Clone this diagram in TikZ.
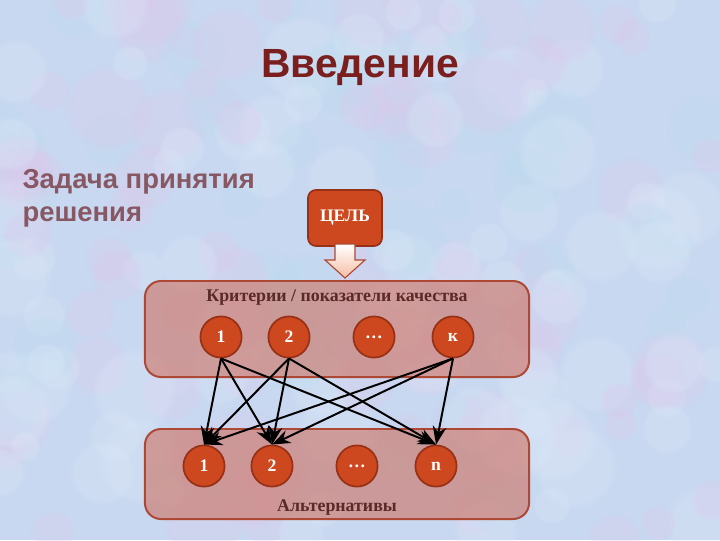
\documentclass[tikz,border=0pt]{standalone}
\usepackage{fontspec}
\setmainfont{Liberation Serif}
\setsansfont{Liberation Sans}
\usetikzlibrary{positioning}
\usetikzlibrary{arrows.meta,arrows,fadings}
\definecolor{bgblue}{RGB}{200,216,240}
\definecolor{bgpink}{RGB}{222,200,235}
\definecolor{bglight}{RGB}{220,232,248}
\definecolor{bgcyan}{RGB}{188,220,238}
\definecolor{titlered}{RGB}{122,30,30}
\definecolor{subgrey}{RGB}{135,88,100}
\definecolor{labbrown}{RGB}{90,42,40}
\definecolor{circfill}{RGB}{205,72,30}
\definecolor{circline}{RGB}{150,48,22}
\definecolor{panfill}{RGB}{205,112,95}
\definecolor{panline}{RGB}{172,72,52}
\definecolor{arpeach}{RGB}{244,190,165}

\begin{document}
\begin{tikzpicture}[x=0.025cm, y=-0.025cm, thick,
  circ/.style={circle, draw=circline, fill=circfill, line width=1.2pt, minimum size=1.03cm, inner sep=0pt, text=white, font=\bfseries\fontsize{12.5}{15}\selectfont},
  goal/.style={rectangle, rounded corners=0.2cm, draw=circline, fill=circfill, line width=1.2pt, minimum width=1.85cm, minimum height=1.4cm, text=white, font=\bfseries\fontsize{12.5}{15}\selectfont},
  panel/.style={rectangle, rounded corners=0.4cm, draw=panline, line width=1.4pt, fill=panfill, fill opacity=0.6, minimum width=9.6cm},
  lab/.style={text=labbrown, font=\bfseries\fontsize{12.7}{15}\selectfont},
  blob/.style={path fading=circle with fuzzy edge 20 percent, fill opacity=0.3},
  ar/.style={-{Stealth[scale=1.4]}, line width=1.4pt}]
  % background
  \useasboundingbox (0,0) rectangle (720,540);
  \fill[bgblue] (0,0) rectangle (720,540);
  \pgfmathsetseed{11}
  \foreach \c in {bgpink,bglight,bgcyan,bgpink,bglight}{
    \foreach \i in {1,...,40}{
      \pgfmathsetmacro{\bx}{720*rnd}
      \pgfmathsetmacro{\by}{540*rnd}
      \pgfmathsetmacro{\br}{15+30*rnd}
      \fill[\c, blob] (\bx,\by) circle[radius=\br];
    }
  }

  % titles
  \node[text=titlered, font=\sffamily\bfseries\fontsize{29}{35}\selectfont] (title) at (360,68) {Введение};
  \node[text=subgrey, font=\sffamily\bfseries\fontsize{19.5}{23.5}\selectfont, align=left, anchor=north west, inner sep=0pt] (task) at (22,169) {Задача принятия\\решения};

  % goal and block arrow
  \node[goal] (goal) at (345,218) {ЦЕЛЬ};
  \draw[panline, line width=0.8pt, top color=white, bottom color=arpeach]
    (335,244) -- (355,244) -- (355,260) -- (365,260) -- (345,278) -- (325,260) -- (335,260) -- cycle;

  % panels
  \node[panel, minimum height=2.4cm] (critpanel) at (337,329) {};
  \node[panel, minimum height=2.25cm] (altpanel) at (337,474) {};
  \node[lab] (critlab) at (337,298) {Критерии / показатели качества};
  \node[lab] (altlab) at (337,507) {Альтернативы};

  % criteria
  \node[circ] (t1) at (221,337) {1};
  \node[circ] (t2) at (289,337) {2};
  \node[circ] (t3) at (374,337) {…};
  \node[circ] (tk) at (453,337) {к};

  % alternatives
  \node[circ] (b1) at (204,466) {1};
  \node[circ] (b2) at (272,466) {2};
  \node[circ] (b3) at (357,466) {…};
  \node[circ] (bn) at (436,466) {n};

  \foreach \s in {t1,t2,tk}{
    \foreach \d in {b1,b2,bn}{
      \draw[ar] (\s.south) -- (\d.north);
    }
  }
\end{tikzpicture}
\end{document}
